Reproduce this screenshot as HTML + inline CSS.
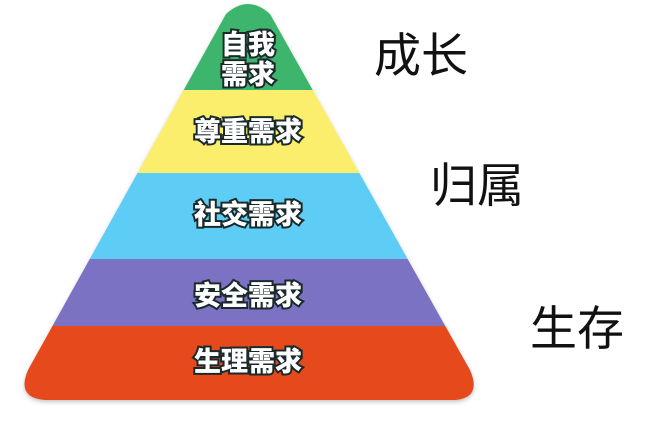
<!DOCTYPE html>
<html><head><meta charset="utf-8"><style>
body{margin:0;width:658px;height:443px;background:#fff;overflow:hidden}
svg{position:absolute;left:0;top:0}
.l{font-family:"Liberation Sans","Noto Sans CJK SC",sans-serif;font-weight:900;fill:#fff;stroke:#1a2a2a;stroke-width:4px;paint-order:stroke;font-size:27px;text-anchor:middle}
.r{font-family:"Liberation Sans","Noto Sans CJK SC",sans-serif;font-size:47px;fill:#111}
</style></head><body>
<svg width="658" height="443" viewBox="0 0 658 443">
<defs><clipPath id="c"><path d="M226,14 Q248,-6 270,14 L470,370 Q482,398 455,400 L45,400 Q16,398 28,370 Z"/></clipPath>
<filter id="s"><feDropShadow dx="0" dy="2" stdDeviation="2" flood-color="#888" flood-opacity="0.5"/></filter></defs>
<g filter="url(#s)"><g clip-path="url(#c)">
<rect x="0" y="0" width="658" height="90" fill="#3eb56c"/>
<rect x="0" y="90" width="658" height="83" fill="#fbee6c"/>
<rect x="0" y="173" width="658" height="86" fill="#5dcdf5"/>
<rect x="0" y="259" width="658" height="67" fill="#7b72c4"/>
<rect x="0" y="326" width="658" height="80" fill="#e5491c"/>
</g></g>
<text class="l" x="248" y="54">自我</text>
<text class="l" x="248" y="84">需求</text>
<text class="l" x="248" y="141">尊重需求</text>
<text class="l" x="248" y="224">社交需求</text>
<text class="l" x="248" y="305">安全需求</text>
<text class="l" x="248" y="371">生理需求</text>
<text class="r" x="374" y="72">成长</text>
<text class="r" x="430" y="202">归属</text>
<text class="r" x="530" y="345">生存</text>
</svg>
</body></html>
